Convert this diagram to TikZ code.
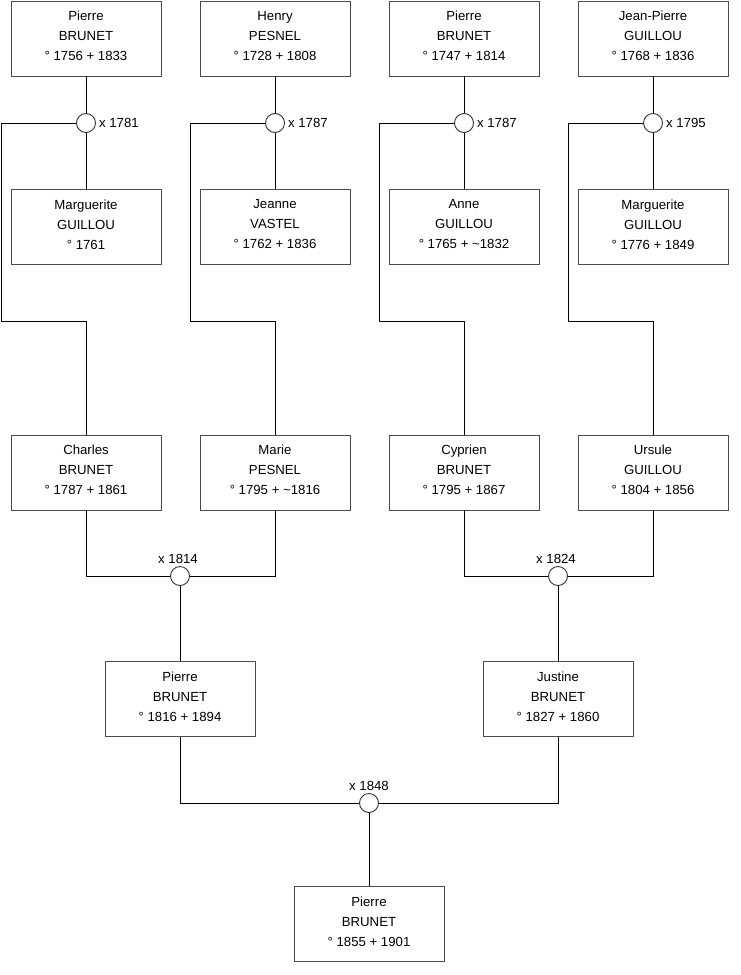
\documentclass[tikz,border=0pt]{standalone}
\usepackage{fontspec}
\setmainfont{Liberation Sans}
\usepackage{tikz}
\usetikzlibrary{positioning,calc}
\tikzset{person/.style={draw=black!70,line width=0.9pt,fill=white,align=center,minimum width=150pt,minimum height=75pt,inner sep=0pt,text depth=5.5pt,font=\fontsize{13.2}{20}\selectfont},wed/.style={circle,draw=black!80,line width=0.9pt,fill=white,minimum size=19pt,inner sep=0pt},yr/.style={font=\fontsize{13.2}{15}\selectfont,inner sep=1pt},link/.style={draw=black,line width=0.9pt}}

\begin{document}
\begin{tikzpicture}[x=1pt,y=-1pt]
\useasboundingbox (0,0) rectangle (740,975);
% grandparents
\node[person] (gp1) at (86,38.5) {Pierre\\BRUNET\\° 1756 + 1833};
\node[person] (gp2) at (275,38.5) {Henry\\PESNEL\\° 1728 + 1808};
\node[person] (gp3) at (464,38.5) {Pierre\\BRUNET\\° 1747 + 1814};
\node[person] (gp4) at (653,38.5) {Jean-Pierre\\GUILLOU\\° 1768 + 1836};
\node[person] (gm1) at (86,227) {Marguerite\\GUILLOU\\° 1761};
\node[person] (gm2) at (275,227) {Jeanne\\VASTEL\\° 1762 + 1836};
\node[person] (gm3) at (464,227) {Anne\\GUILLOU\\° 1765 + \textasciitilde1832};
\node[person] (gm4) at (653,227) {Marguerite\\GUILLOU\\° 1776 + 1849};
\node[wed] (w1) at (86,123) {};
\node[wed] (w2) at (275,123) {};
\node[wed] (w3) at (464,123) {};
\node[wed] (w4) at (653,123) {};
\node[yr,right=2pt of w1] {x 1781};
\node[yr,right=2pt of w2] {x 1787};
\node[yr,right=2pt of w3] {x 1787};
\node[yr,right=2pt of w4] {x 1795};
% parents
\node[person] (pa1) at (86,472.5) {Charles\\BRUNET\\° 1787 + 1861};
\node[person] (pa2) at (275,472.5) {Marie\\PESNEL\\° 1795 + \textasciitilde1816};
\node[person] (pa3) at (464,472.5) {Cyprien\\BRUNET\\° 1795 + 1867};
\node[person] (pa4) at (653,472.5) {Ursule\\GUILLOU\\° 1804 + 1856};
\coordinate (k1) at (1,321);
\coordinate (k2) at (190,321);
\coordinate (k3) at (379,321);
\coordinate (k4) at (568,321);
\foreach \i in {1,...,4}{
  \draw[link] (gp\i) -- (w\i);
  \draw[link] (w\i) -- (gm\i);
  \draw[link] (w\i.west) -| (k\i) -| (pa\i.north);
}
\node[wed] (w5) at (180,576) {};
\node[wed] (w6) at (558,576) {};
\node[yr,above=1pt of w5,xshift=-2pt] {x 1814};
\node[yr,above=1pt of w6,xshift=-2pt] {x 1824};
\draw[link] (pa1.south) |- (w5.west);
\draw[link] (pa2.south) |- (w5.east);
\draw[link] (pa3.south) |- (w6.west);
\draw[link] (pa4.south) |- (w6.east);
% children
\node[person] (ch1) at (180,699) {Pierre\\BRUNET\\° 1816 + 1894};
\node[person] (ch2) at (558,699) {Justine\\BRUNET\\° 1827 + 1860};
\draw[link] (w5) -- (ch1);
\draw[link] (w6) -- (ch2);
\node[wed] (w7) at (369,803) {};
\node[yr,above=1pt of w7] {x 1848};
\draw[link] (ch1.south) |- (w7.west);
\draw[link] (ch2.south) |- (w7.east);
\node[person] (me) at (369,924) {Pierre\\BRUNET\\° 1855 + 1901};
\draw[link] (w7) -- (me);
\end{tikzpicture}
\end{document}
